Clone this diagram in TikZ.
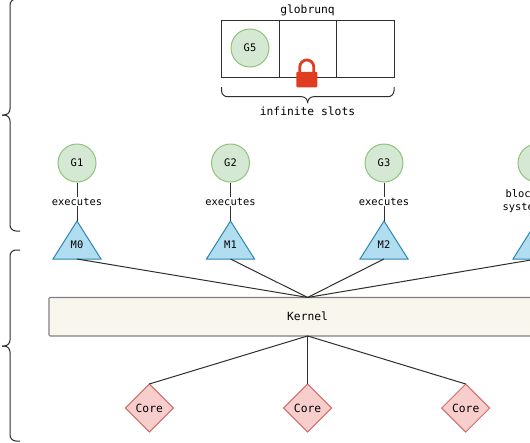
\documentclass[tikz,border=0pt]{standalone}
\usepackage{fontspec}
\setmonofont{DejaVu Sans Mono}
\definecolor{gfill}{HTML}{D5E8D4}
\definecolor{gline}{HTML}{8DC47A}
\definecolor{mfill}{HTML}{B1DDF0}
\definecolor{mline}{HTML}{2B86B0}
\definecolor{cfill}{HTML}{F8CECC}
\definecolor{cline}{HTML}{CC6F6A}
\definecolor{kfill}{HTML}{F9F7ED}
\definecolor{kline}{HTML}{808080}
\definecolor{lockred}{HTML}{E03C20}
\definecolor{inkgray}{HTML}{2E2E2E}
\usetikzlibrary{positioning, shapes.geometric}
\tikzset{
	monotext/.style={font=\ttfamily\fontsize{10.4}{13}\selectfont, text=black},
	bigtext/.style={font=\ttfamily\fontsize{11.3}{14}\selectfont, text=black},
	slotbox/.style={draw=inkgray, line width=1pt, rectangle, minimum width=57.6pt, minimum height=57pt, inner sep=0pt, outer sep=0pt},
	gnode/.style={monotext, circle, draw=gline, line width=1pt, fill=gfill, minimum size=38pt, inner sep=0pt},
	mnode/.style={monotext, isosceles triangle, isosceles triangle stretches, shape border rotate=90,
		draw=mline, line width=1pt, fill=mfill, minimum width=48pt, minimum height=38pt, inner sep=0pt, outer sep=0pt, text depth=5pt},
	cnode/.style={bigtext, diamond, draw=cline, line width=1pt, fill=cfill, minimum width=48pt, minimum height=48pt, inner sep=0pt, outer sep=0pt},
	knode/.style={bigtext, draw=kline, line width=1.1pt, fill=kfill, rounded corners=1pt, minimum width=517.2pt, minimum height=38.5pt, outer sep=0pt},
	plabel/.style={monotext, fill=white, inner sep=1pt, align=center},
	plink/.style={draw=inkgray, line width=1pt},
	cbrace/.style={draw=inkgray, line width=1pt, rounded corners=6pt}
}

\begin{document}
\begin{tikzpicture}[x=1pt, y=-1pt]
	\path[use as bounding box, clip] (0,0) rectangle (530,442);
	\coordinate (toptip) at (2,115);
	\coordinate (lowtip) at (2,346);
	\coordinate (slotstip) at (307.6,103);
	\draw[cbrace] (20,-1) -- (10,-1) -- (10,115) -- (toptip);
	\draw[cbrace] (20,231) -- (10,231) -- (10,115) -- (toptip);
	\draw[cbrace] (20,250) -- (10,250) -- (10,346) -- (lowtip);
	\draw[cbrace] (20,441) -- (10,441) -- (10,346) -- (lowtip);
	\node[slotbox] (slot1) at (250.3,48.5) {};
	\node[slotbox, right=0pt of slot1] (slot2) {};
	\node[slotbox, right=0pt of slot2] (slot3) {};
	\node[bigtext] (globrunq) at (307.5,10.5) {globrunq};
	\node[gnode] (G5) at (250,48) {G5};
	\draw[cbrace] (221.5,87) -- (221.5,96.7) -- (307.6,96.7) -- (slotstip);
	\draw[cbrace] (394,87) -- (394,96.7) -- (307.6,96.7) -- (slotstip);
	\node[bigtext] (slots) at (307.5,111.5) {infinite slots};
	\draw[lockred, line width=2.8pt] (299.8,73) -- (299.8,67) arc[start angle=180, end angle=0, radius=7pt] -- (313.8,73);
	\node[fill=lockred, rounded corners=1pt, minimum width=21pt, minimum height=15.5pt, inner sep=0pt] (lockbody) at (306.8,79.5) {};
	\node[gnode] (G1) at (77,163) {G1};
	\node[gnode] (G2) at (230.5,163) {G2};
	\node[gnode] (G3) at (384,163) {G3};
	\node[gnode] (G4) at (537,163) {};
	\node[mnode, anchor=apex] (M0) at (77,221) {M0};
	\node[mnode, anchor=apex] (M1) at (230.5,221) {M1};
	\node[mnode, anchor=apex] (M2) at (384,221) {M2};
	\node[mnode, anchor=apex] (M3) at (537,221) {};
	\node[plabel] (exec1) at (77,201.5) {executes};
	\node[plabel] (exec2) at (230.5,201.5) {executes};
	\node[plabel] (exec3) at (384,201.5) {executes};
	\node[plabel] (block) at (537,201.5) {blocked on\\system call};
	\node[knode] (kernel) at (307.6,316.7) {Kernel};
	\node[cnode] (core1) at (149.3,408) {Core};
	\node[cnode] (core2) at (307.6,408) {Core};
	\node[cnode] (core3) at (465.7,408) {Core};
	\draw[plink] (G1) -- (exec1) -- (M0.apex);
	\draw[plink] (G2) -- (exec2) -- (M1.apex);
	\draw[plink] (G3) -- (exec3) -- (M2.apex);
	\draw[plink] (G4) -- (block) -- (M3.apex);
	\draw[plink] (M0.south) -- (kernel.north);
	\draw[plink] (M1.south) -- (kernel.north);
	\draw[plink] (M2.south) -- (kernel.north);
	\draw[plink] (M3.south) -- (kernel.north);
	\draw[plink] (kernel.south) -- (core1.north);
	\draw[plink] (kernel.south) -- (core2.north);
	\draw[plink] (kernel.south) -- (core3.north);
\end{tikzpicture}
\end{document}
